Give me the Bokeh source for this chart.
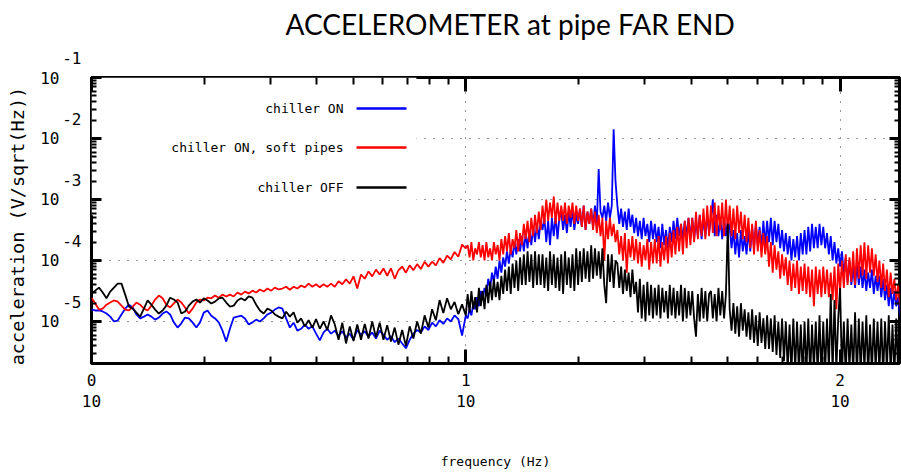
import math
from bokeh.plotting import figure
from bokeh.models import (ColumnDataSource, Label, Range1d, LogAxis, LogTicker, Title,
                          BoxAnnotation, Arrow, CustomJSTickFormatter)
from bokeh.embed import file_html
from bokeh.resources import INLINE

# ---------------- data ----------------
# frequency grid: log10(f / Hz)
log10_freq_hz = [
    0.00, 0.01, 0.02, 0.03, 0.04, 0.05, 0.06, 0.07, 0.08, 0.09,
    0.10, 0.11, 0.12, 0.13, 0.14, 0.15, 0.16, 0.17, 0.18, 0.19,
    0.20, 0.21, 0.22, 0.23, 0.24, 0.25, 0.26, 0.27, 0.28, 0.29,
    0.30, 0.31, 0.32, 0.33, 0.34, 0.35, 0.36, 0.37, 0.38, 0.39,
    0.40, 0.41, 0.42, 0.43, 0.44, 0.45, 0.46, 0.47, 0.48, 0.49,
    0.50,
    0.51, 0.52, 0.53, 0.54, 0.55, 0.56, 0.57, 0.58, 0.59, 0.60,
    0.61, 0.62, 0.63, 0.64, 0.65, 0.66, 0.67, 0.68, 0.69, 0.70,
    0.71, 0.72, 0.73, 0.74, 0.75, 0.76, 0.77, 0.78, 0.79, 0.80,
    0.81, 0.82, 0.83, 0.84, 0.85, 0.86, 0.87, 0.88, 0.89, 0.90,
    0.91, 0.92, 0.93, 0.94, 0.95, 0.96, 0.97, 0.98, 0.99, 1.00,
    1.005, 1.010, 1.015, 1.020, 1.025, 1.030, 1.035, 1.040, 1.045, 1.050,
    1.055, 1.060, 1.065, 1.070, 1.075, 1.080, 1.085, 1.090, 1.095, 1.100,
    1.105, 1.110, 1.115, 1.120, 1.125, 1.130, 1.135, 1.140, 1.145, 1.150,
    1.155, 1.160, 1.165, 1.170, 1.175, 1.180, 1.185, 1.190, 1.195, 1.200,
    1.205, 1.210, 1.215, 1.220, 1.225, 1.230, 1.235, 1.240, 1.245, 1.250,
    1.255, 1.260, 1.265, 1.270, 1.275, 1.280, 1.285, 1.290, 1.295, 1.300,
    1.305, 1.310, 1.315, 1.320, 1.325, 1.330, 1.335, 1.340, 1.345, 1.350,
    1.355, 1.360, 1.365, 1.370, 1.375, 1.380, 1.385, 1.390, 1.395, 1.400,
    1.405, 1.410, 1.415, 1.420, 1.425, 1.430, 1.435, 1.440, 1.445, 1.450,
    1.455, 1.460, 1.465, 1.470, 1.475, 1.480, 1.485, 1.490, 1.495, 1.500,
    1.505, 1.510, 1.515, 1.520, 1.525, 1.530, 1.535, 1.540, 1.545, 1.550,
    1.555, 1.560, 1.565, 1.570, 1.575, 1.580, 1.585, 1.590, 1.595, 1.600,
    1.605, 1.610, 1.615, 1.620, 1.625, 1.630, 1.635, 1.640, 1.645, 1.650,
    1.655, 1.660, 1.665, 1.670, 1.675, 1.680, 1.685, 1.690, 1.695, 1.700,
    1.705, 1.710, 1.715, 1.720, 1.725, 1.730, 1.735, 1.740, 1.745, 1.750,
    1.755, 1.760, 1.765, 1.770, 1.775, 1.780, 1.785, 1.790, 1.795, 1.800,
    1.805, 1.810, 1.815, 1.820, 1.825, 1.830, 1.835, 1.840, 1.845, 1.850,
    1.855, 1.860, 1.865, 1.870, 1.875, 1.880, 1.885, 1.890, 1.895, 1.900,
    1.905, 1.910, 1.915, 1.920, 1.925, 1.930, 1.935, 1.940, 1.945, 1.950,
    1.955, 1.960, 1.965, 1.970, 1.975, 1.980, 1.985, 1.990, 1.995, 2.000,
    2.005, 2.010, 2.015, 2.020, 2.025, 2.030, 2.035, 2.040, 2.045, 2.050,
    2.055, 2.060, 2.065, 2.070, 2.075, 2.080, 2.085, 2.090, 2.095, 2.100,
    2.105, 2.110, 2.115, 2.120, 2.125, 2.130, 2.135, 2.140, 2.145, 2.150,
    2.155, 2.160,
]

# amplitude spectra in dB re 1 V/sqrt(Hz)
chiller_on_db = [
    -96.1, -96.4, -96.4, -96.7, -97.4, -98.4, -100.0, -99.7, -97.7, -95.8,
    -94.5, -95.4, -97.7, -99.0, -98.4, -97.7, -98.4, -99.4, -98.7, -97.4,
    -96.7, -97.7, -100.3, -102.0, -100.6, -98.7, -99.0, -100.3, -102.0, -100.3,
    -97.1, -96.4, -98.1, -99.0, -100.3, -103.0, -106.6, -102.3, -98.7, -98.4,
    -98.1, -99.0, -101.0, -100.3, -99.4, -100.0, -99.0, -97.7, -97.1, -96.1,
    -95.4,
    -95.8, -99.0, -102.0, -100.4, -103.0, -102.4, -101.0, -102.4, -101.6, -104.0,
    -106.2, -103.6, -102.4, -104.0, -103.0, -104.8, -103.2, -105.2, -104.0, -106.0,
    -102.8, -104.4, -103.2, -105.0, -103.6, -105.6, -103.0, -104.4, -106.0, -104.8,
    -106.8, -105.6, -107.2, -108.8, -106.0, -104.0, -102.8, -103.6, -101.6, -102.8,
    -100.4, -101.6, -99.6, -100.8, -99.0, -100.0, -98.0, -99.2, -104.6, -98.0,
    -99, -96, -98, -94, -96, -92, -95, -90, -93, -89,
    -91, -86, -89, -84, -87, -82, -86, -80, -84, -79,
    -82, -77, -81, -76, -79, -74, -78, -73, -77, -72,
    -77, -71, -76, -70, -75, -69, -74, -68, -73, -67,
    -70, -66, -74, -67, -75, -66, -72, -65, -73, -66,
    -64, -70, -65, -71, -64, -69, -63, -70, -65, -68,
    -63, -69, -62, -70, -64, -68, -63, -69, -62, -68,
    -50, -64, -66, -62, -67, -61, -66, -62, -37, -54,
    -62, -68, -63, -69, -64, -70, -63, -69, -65, -71,
    -66, -72, -67, -73, -66, -72, -68, -74, -67, -73,
    -68, -74, -69, -76, -68, -75, -70, -76, -69, -74,
    -67, -73, -66, -72, -68, -73, -67, -72, -66, -73,
    -66, -73, -67, -72, -65, -73, -66, -72, -65, -71,
    -66, -60, -72, -65, -72, -66, -73, -66, -72, -67,
    -69, -76, -70, -78, -71, -79, -70, -77, -72, -78,
    -70, -77, -69, -76, -68, -75, -69, -76, -67, -75,
    -67, -74, -66, -75, -67, -74, -68, -76, -70, -77,
    -71, -78, -72, -80, -73, -79, -72, -80, -71, -78,
    -70, -78, -69, -77, -68, -76, -69, -76, -68, -75,
    -69, -76, -71, -78, -72, -80, -74, -81, -76, -82,
    -77, -85, -79, -87, -80, -88, -82, -89, -81, -88,
    -82, -89, -83, -90, -84, -89, -83, -91, -85, -90,
    -85, -92, -86, -93, -88, -95, -89, -96, -90, -95,
    -92, -98,
]

chiller_on_soft_pipes_db = [
    -92.2, -94.1, -96.1, -95.8, -94.5, -93.8, -93.1, -93.5, -94.8, -96.1,
    -96.4, -95.1, -93.8, -94.5, -95.8, -96.4, -94.8, -92.8, -91.5, -92.4,
    -94.5, -95.4, -94.1, -92.8, -93.8, -95.4, -97.4, -95.8, -93.8, -92.8,
    -93.1, -92.2, -92.4, -91.5, -92.2, -91.2, -91.8, -91.2, -91.8, -90.5,
    -91.2, -90.2, -90.8, -89.9, -90.5, -89.5, -90.2, -89.2, -89.9, -88.9,
    -89.5,
    -89.2, -88.6, -89.6, -88.6, -89.2, -88.2, -88.8, -87.6, -88.6, -87.8,
    -88.8, -87.8, -88.6, -87.6, -88.6, -86.8, -87.8, -86.2, -87.6, -85.2,
    -89.2, -84.6, -86.0, -83.6, -85.2, -83.0, -84.6, -82.6, -85.0, -82.6,
    -86.0, -83.2, -82.0, -84.0, -81.6, -83.2, -81.2, -82.8, -80.4, -82.0,
    -80.4, -81.6, -79.2, -80.8, -78.4, -79.6, -77.2, -78.8, -74.8, -76.0,
    -75, -79, -74, -80, -76, -78, -74, -79, -75, -80,
    -74, -79, -76, -80, -74, -78, -75, -80, -73, -78,
    -72, -77, -71, -78, -73, -76, -70, -77, -71, -75,
    -68, -73, -67, -74, -66, -72, -65, -71, -64, -70,
    -62, -68, -60, -67, -61, -66, -59, -68, -61, -67,
    -62, -67, -61, -68, -62, -66, -61, -68, -62, -67,
    -63, -69, -62, -70, -64, -68, -63, -70, -64, -71,
    -65, -72, -66, -80, -67, -73, -66, -72, -68, -74,
    -70, -78, -72, -80, -71, -84, -73, -79, -72, -80,
    -73, -81, -74, -82, -75, -80, -73, -83, -74, -81,
    -73, -81, -72, -82, -74, -80, -72, -81, -71, -79,
    -70, -78, -69, -77, -68, -78, -67, -76, -66, -75,
    -66, -74, -64, -73, -65, -72, -63, -73, -62, -72,
    -62, -71, -61, -72, -62, -70, -61, -72, -60, -71,
    -62, -72, -63, -73, -62, -71, -64, -73, -65, -74,
    -66, -76, -68, -78, -67, -77, -70, -79, -71, -78,
    -72, -82, -74, -84, -75, -83, -77, -86, -78, -85,
    -79, -88, -80, -90, -81, -89, -80, -91, -82, -90,
    -81, -91, -82, -92, -83, -95, -82, -91, -83, -92,
    -82, -91, -83, -92, -84, -93, -82, -96, -81, -90,
    -80, -89, -78, -88, -79, -87, -77, -88, -76, -86,
    -75, -85, -74, -86, -75, -84, -76, -85, -78, -87,
    -80, -89, -81, -90, -83, -92, -84, -91, -86, -93,
    -88, -95,
]

chiller_off_db = [
    -90.8, -89.9, -88.9, -90.5, -92.4, -90.2, -88.9, -87.6, -87.6, -91.2,
    -95.1, -95.8, -97.1, -98.4, -95.8, -93.1, -94.5, -96.1, -97.4, -96.4,
    -94.8, -92.2, -92.8, -93.8, -97.4, -96.7, -94.8, -93.5, -92.8, -93.8,
    -92.4, -93.1, -94.1, -93.5, -92.4, -92.2, -93.8, -95.1, -94.8, -93.1,
    -92.4, -93.1, -91.8, -92.2, -94.5, -96.4, -97.4, -95.8, -96.4, -97.7,
    -98.4,
    -99.0, -96.8, -98.4, -97.0, -100.4, -99.0, -101.6, -99.6, -102.0, -99.2,
    -102.4, -100.0, -102.8, -98.0, -101.0, -106.0, -100.4, -107.2, -101.6, -106.4,
    -101.0, -106.0, -100.8, -105.6, -100.0, -105.2, -100.4, -106.0, -101.2, -106.6,
    -102.0, -107.6, -102.8, -108.0, -101.6, -105.6, -100.0, -104.0, -98.0, -102.0,
    -96.0, -99.6, -93.0, -97.2, -92.4, -96.0, -93.6, -97.6, -94.4, -98.0,
    -91, -97, -90, -96, -92, -97, -89, -95, -90, -96,
    -88, -94, -87, -93, -86, -92, -87, -93, -85, -91,
    -83, -90, -82, -91, -81, -89, -80, -90, -79, -88,
    -78, -88, -77, -87, -78, -89, -77, -88, -78, -88,
    -78, -89, -79, -90, -77, -88, -78, -89, -79, -90,
    -78, -91, -77, -88, -79, -89, -78, -90, -76, -88,
    -77, -87, -76, -86, -77, -87, -75, -86, -76, -85,
    -77, -86, -76, -88, -94, -78, -87, -78, -89, -80,
    -81, -89, -82, -91, -83, -90, -84, -92, -83, -91,
    -87, -97, -86, -99, -88, -100, -87, -98, -88, -99,
    -89, -98, -88, -99, -89, -97, -90, -99, -88, -98,
    -89, -99, -90, -98, -88, -100, -89, -99, -90, -98,
    -90, -99, -105, -91, -100, -89, -99, -90, -100, -91,
    -90, -99, -91, -100, -89, -98, -90, -99, -91, -68,
    -96, -103, -94, -104, -95, -105, -94, -103, -96, -105,
    -97, -106, -96, -107, -98, -108, -97, -107, -99, -109,
    -98, -109, -99, -110, -98, -111, -100, -112, -99, -113,
    -100, -116, -101, -117, -99, -116, -100, -117, -101, -118,
    -100, -117, -99, -118, -101, -116, -100, -117, -98, -118,
    -100, -117, -99, -116, -91, -117, -93, -116, -99, -89,
    -117, -100, -118, -99, -116, -101, -117, -97, -118, -99,
    -117, -100, -116, -98, -118, -101, -117, -99, -116, -100,
    -117, -99, -118, -100, -116, -98, -117, -101, -118, -99,
    -117, -100,
]

series_labels = ["chiller ON", "chiller ON, soft pipes", "chiller OFF"]
series_colors = ["#0000ff", "#ff0000", "#000000"]

x_tick_values = [1, 10, 100]
x_tick_exponents = ["0", "1", "2"]
y_tick_values = [1e-1, 1e-2, 1e-3, 1e-4, 1e-5]
y_tick_exponents = ["-1", "-2", "-3", "-4", "-5"]

title_text = "ACCELEROMETER at  pipe FAR END"
x_label_text = "frequency (Hz)"
y_label_text = "acceleration  (V/sqrt(Hz))"

# ---------------- figure ----------------
X_START, X_END = 1.0, 10 ** 2.1587
Y_START, Y_END = 10 ** -5.689, 10 ** -1.0
MONO = "DejaVu Sans Mono"
TICK_FONT = "16px"

p = figure(width=901, height=473, x_axis_type="log", y_axis_type="log",
           x_range=Range1d(X_START, X_END), y_range=Range1d(Y_START, Y_END),
           output_backend="svg", toolbar_location=None,
           min_border_left=91, min_border_right=2, min_border_top=77, min_border_bottom=110)
p.background_fill_color = "white"
p.border_fill_color = "white"
p.outline_line_color = "black"
p.outline_line_width = 3


def label_formatter(vals, labels, suffix=""):
    return CustomJSTickFormatter(args=dict(vals=vals, labels=labels, suffix=suffix), code="""
        const k = Math.round(Math.log10(tick));
        for (let i = 0; i < vals.length; i++) {
            if (Math.round(Math.log10(vals[i])) == k) { return labels[i] + suffix; }
        }
        return "";
    """)


def style_ticks(ax, major_len, minor_len):
    ax.ticker = LogTicker(num_minor_ticks=10)
    ax.axis_line_alpha = 0
    ax.major_tick_out = 0
    ax.minor_tick_out = 0
    ax.major_tick_in = major_len
    ax.minor_tick_in = minor_len
    ax.major_tick_line_width = 3
    ax.minor_tick_line_width = 2
    ax.major_tick_line_color = "black"
    ax.minor_tick_line_color = "black"
    ax.major_label_text_font = MONO
    ax.major_label_text_font_size = TICK_FONT
    ax.major_label_text_color = "black"


def style_label_only(ax):
    ax.ticker = LogTicker(num_minor_ticks=10)
    ax.axis_line_alpha = 0
    ax.major_tick_in = 0
    ax.major_tick_out = 0
    ax.minor_tick_in = 0
    ax.minor_tick_out = 0
    ax.major_tick_line_alpha = 0
    ax.minor_tick_line_alpha = 0
    ax.major_label_text_font = MONO
    ax.major_label_text_font_size = TICK_FONT
    ax.major_label_text_color = "black"


# bottom: inner axis = ticks + exponents, outer axis = "10" + axis title
bottom_inner = p.below[0]
style_ticks(bottom_inner, 14, 7)
bottom_inner.formatter = label_formatter(x_tick_values, x_tick_exponents)
bottom_inner.major_label_standoff = 10

bottom_outer = LogAxis()
p.add_layout(bottom_outer, "below")
style_label_only(bottom_outer)
bottom_outer.formatter = label_formatter(x_tick_values, ["10"] * len(x_tick_values))
bottom_outer.major_label_standoff = 6
bottom_outer.axis_label = x_label_text
bottom_outer.axis_label_text_font = MONO
bottom_outer.axis_label_text_font_size = "13px"
bottom_outer.axis_label_text_font_style = "normal"
bottom_outer.axis_label_text_color = "black"
bottom_outer.axis_label_standoff = 44

# left: inner axis = ticks + raised exponents, outer axis = "10" + axis title
left_inner = p.left[0]
style_ticks(left_inner, 10, 5)
left_inner.formatter = label_formatter(y_tick_values, y_tick_exponents, "\n\n")
left_inner.major_label_standoff = 10
left_inner.major_label_text_line_height = 1.0

left_outer = LogAxis()
p.add_layout(left_outer, "left")
style_label_only(left_outer)
left_outer.formatter = label_formatter(y_tick_values, ["10"] * len(y_tick_values))
left_outer.major_label_standoff = 0
left_outer.axis_label = y_label_text
left_outer.axis_label_text_font = MONO
left_outer.axis_label_text_font_size = "18.5px"
left_outer.axis_label_text_font_style = "normal"
left_outer.axis_label_text_color = "black"
left_outer.axis_label_standoff = 9

# mirrored tick marks on top and right
top_axis = LogAxis()
p.add_layout(top_axis, "above")
right_axis = LogAxis()
p.add_layout(right_axis, "right")
style_ticks(top_axis, 14, 7)
style_ticks(right_axis, 10, 5)
for ax in (top_axis, right_axis):
    ax.formatter = CustomJSTickFormatter(code="return ''")
    ax.major_label_standoff = 0

# chart title (a blank spacer row keeps it near the top of the page)
p.add_layout(Title(text=" ", text_font_size="10px", standoff=24), "above")
p.add_layout(Title(text=title_text, align="left", offset=194, standoff=0, text_font="Lato",
                   text_font_size="28px", text_font_style="normal", text_color="black"), "above")

for g in (p.xgrid[0], p.ygrid[0]):
    g.grid_line_color = "#333333"
    g.grid_line_width = 1
    g.grid_line_dash = "1 8"

# white key area hiding the grid behind the key
p.add_layout(BoxAnnotation(left=X_START, right=10 ** 0.868, bottom=10 ** -3.26, top=Y_END,
                           fill_color="white", fill_alpha=1.0, line_alpha=0, level="underlay"))

freq = [10 ** v for v in log10_freq_hz]
for amps_db, color in zip([chiller_on_db, chiller_on_soft_pipes_db, chiller_off_db],
                          series_colors):
    src = ColumnDataSource(dict(x=freq, y=[10 ** (a / 20.0) for a in amps_db]))
    p.line("x", "y", source=src, line_color=color, line_width=1.8)

# key (text on the left, sample line on the right)
key_rows = [10 ** -1.508, 10 ** -2.148, 10 ** -2.803]
for label, color, ky in zip(series_labels, series_colors, key_rows):
    p.add_layout(Label(x=10 ** 0.6733, y=ky, text=label, text_align="right",
                       text_baseline="middle", text_font=MONO, text_font_size="13px",
                       text_color="black"))
    p.add_layout(Arrow(end=None, x_start=10 ** 0.708, y_start=ky, x_end=10 ** 0.8416, y_end=ky,
                       line_color=color, line_width=2.5))

open("out.html", "w").write(file_html(p, INLINE))
